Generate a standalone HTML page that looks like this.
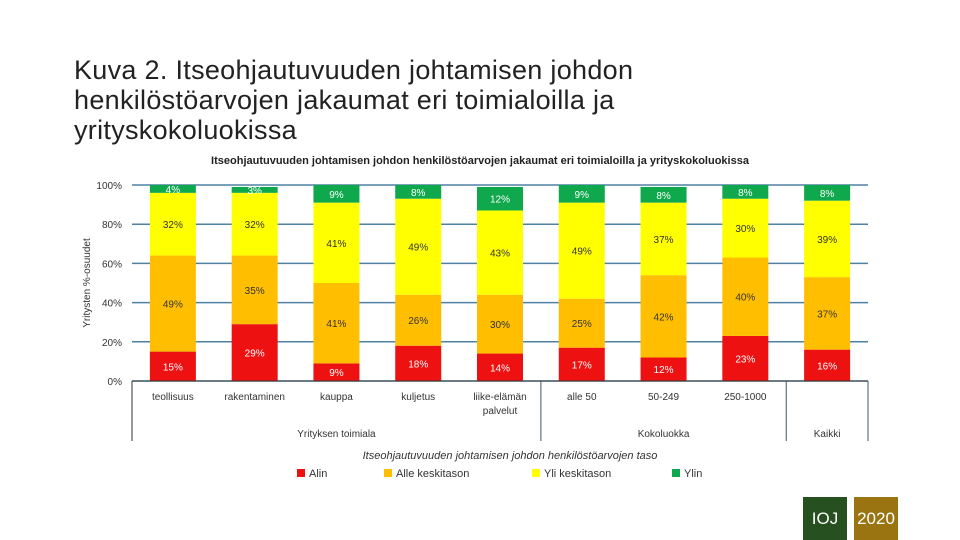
<!DOCTYPE html>
<html><head><meta charset="utf-8"><style>
body{margin:0;width:960px;height:540px;background:#fff;position:relative;overflow:hidden;font-family:"Liberation Sans","DejaVu Sans",sans-serif}
#slide-title{position:absolute;left:74px;top:55px;font-size:27px;letter-spacing:0.3px;line-height:30px;color:#222;width:640px}
#chart{position:absolute;left:0;top:145px}
.box{position:absolute;top:497px;height:43px;color:#fff;font-size:17px;display:flex;align-items:center;justify-content:center}
</style></head><body>
<div id="slide-title">Kuva 2. Itseohjautuvuuden johtamisen johdon henkilöstöarvojen jakaumat eri toimialoilla ja yrityskokoluokissa</div>
<svg id="chart" width="960" height="340" viewBox="0 145 960 340" style="background:#fff"></svg>
<div class="box" style="left:803px;width:44px;background:#26501f">IOJ</div>
<div class="box" style="left:854px;width:44px;background:#9b7412">2020</div>
<script>
const categories=["teollisuus","rakentaminen","kauppa","kuljetus","liike-elämän|palvelut","alle 50","50-249","250-1000",""];
const alin=[15,29,9,18,14,17,12,23,16];
const alle=[49,35,41,26,30,25,42,40,37];
const yli=[32,32,41,49,43,49,37,30,39];
const ylin=[4,3,9,8,12,9,8,8,8];
const yTicks=[0,20,40,60,80,100];
const seriesNames=["Alin","Alle keskitason","Yli keskitason","Ylin"];
const colors=["#ee1111","#ffbf00","#ffff00","#10a84c"];
const textCol=["#fff","#333","#333","#fff"];
const groups=[["Yrityksen toimiala",0,5],["Kokoluokka",5,8],["Kaikki",8,9]];
const NS="http://www.w3.org/2000/svg";
const svg=document.getElementById('chart');
const x0=132,x1=868,y0=381,y1=185,bw=46;
const step=(x1-x0)/categories.length;
const xc=i=>x0+step*(i+0.5);
const y=v=>y0-(y0-y1)*v/100;
function mk(t,a,p){const e=document.createElementNS(NS,t);for(const k in a)e.setAttribute(k,a[k]);(p||svg).appendChild(e);return e;}
let t=mk('text',{x:480,y:164,'text-anchor':'middle','font-size':11,'font-weight':'bold',fill:'#222'});


t.textContent='Itseohjautuvuuden johtamisen johdon henkilöstöarvojen jakaumat eri toimialoilla ja yrityskokoluokissa';
yTicks.forEach(v=>{
 const g=mk('line',{x1:x0,x2:x1,y1:y(v),y2:y(v),stroke:'#4f81a4','stroke-width':1.5});
 
 
 const l=mk('text',{x:122,y:y(v)+4,'text-anchor':'end','font-size':10,fill:'#333'});
 
 
 l.textContent=v+'%';
});
const yt=mk('text',{x:0,y:0,transform:'translate(90,283) rotate(-90)','text-anchor':'middle','font-size':10,fill:'#333'});


yt.textContent='Yritysten %-osuudet';
const series=[alin,alle,yli,ylin];
categories.forEach((c,i)=>{
 let base=0;
 series.forEach((s,k)=>{
  const v=s[i];let top=Math.min(base+v,100);
  const r=mk('rect',{x:xc(i)-bw/2,y:y(top),width:bw,height:y(base)-y(top),fill:colors[k]});
  
  
  const tl=mk('text',{x:xc(i),y:(y(base)+y(top))/2+4,'text-anchor':'middle','font-size':10,fill:textCol[k]});
  
  
  tl.textContent=v+'%';
  base=top;
 });
 c.split('|').forEach((p,j)=>{
  const cl=mk('text',{x:xc(i),y:400+j*14,'text-anchor':'middle','font-size':10,fill:'#333'});
  
  
  cl.textContent=p;
 });
});
mk('line',{x1:x0,x2:x0,y1:y0,y2:441,stroke:'#333'});
mk('line',{x1:x0,x2:x1,y1:y0,y2:y0,stroke:'#333'});
groups.forEach(g=>{
 const xe=x0+step*g[2];
 const sep=mk('line',{x1:xe,x2:xe,y1:y0,y2:441,stroke:'#44546a'});
 
 
 const gl=mk('text',{x:x0+step*(g[1]+g[2])/2,y:437,'text-anchor':'middle','font-size':10,fill:'#333'});
 
 
 gl.textContent=g[0];
});
const lt=mk('text',{x:510,y:459,'text-anchor':'middle','font-size':11,'font-style':'italic',fill:'#333'});


lt.textContent='Itseohjautuvuuden johtamisen johdon henkilöstöarvojen taso';
const lx=[297,384,532,672];
seriesNames.forEach((n,k)=>{
 const s=mk('rect',{x:lx[k],y:469,width:8,height:8,fill:colors[k]});
 
 
 const le=mk('text',{x:lx[k]+12,y:477,'font-size':11,fill:'#333'});
 
 
 le.textContent=n;
});
</script>
</body></html>
